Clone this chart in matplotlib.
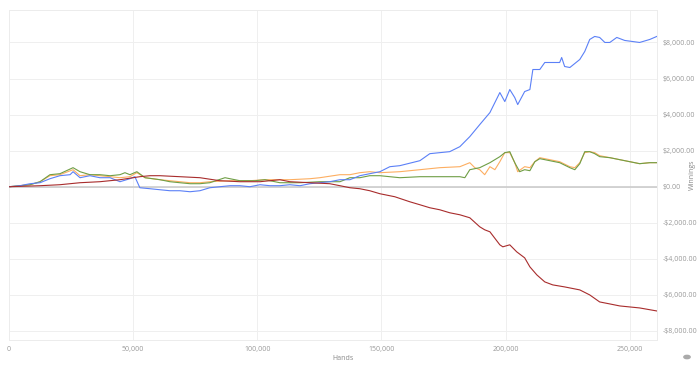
import matplotlib
matplotlib.use("Agg")
import matplotlib.pyplot as plt
from matplotlib.ticker import FuncFormatter
from matplotlib.patches import Circle

plt.rcParams['font.family'] = ['Open Sans', 'DejaVu Sans']

# hands (thousands) and winnings ($)
blue_hands = [0, 4.4, 8.5, 12.5, 16.5, 20.5, 24.6, 25.8, 28.6, 32.6, 36.6, 40.7, 44.7, 48.7, 50.7,
              52.7, 56.8, 60.8, 64.8, 68.8, 72.9, 76.9, 80.9, 84.9, 89.0, 93.0, 97.0, 101.1, 105.1,
              109.1, 113.1, 117.2, 121.2, 125.2, 129.2, 133.3, 137.3, 141.3, 145.3, 149.4, 153.4,
              157.4, 165.5, 169.5, 173.5, 177.5, 181.6, 185.6, 189.6, 193.7, 197.7, 199.7, 201.7,
              203.7, 204.9, 207.7, 209.8, 211.0, 213.8, 215.8, 217.8, 221.8, 222.6, 223.8, 225.9,
              229.9, 231.9, 233.9, 235.9, 237.9, 240.0, 242.0, 244.8, 248.0, 254.0, 258.1, 260.9]
blue_win = [0, 56, 167, 222, 444, 611, 667, 833, 500, 611, 500, 500, 278, 444, 556,
            -56, -111, -167, -222, -222, -278, -222, -56, 0, 56, 56, 0, 111, 56,
            56, 111, 56, 167, 222, 278, 389, 389, 611, 722, 833, 1111,
            1167, 1444, 1833, 1889, 1944, 2222, 2778, 3444, 4111, 5222, 4722, 5389,
            4945, 4556, 5278, 5389, 6500, 6500, 6889, 6889, 6889, 7167, 6667, 6611,
            7056, 7500, 8167, 8333, 8278, 8000, 8000, 8278, 8111, 8000, 8167, 8333]

orange_hands = [0, 4.4, 8.5, 12.5, 16.5, 20.5, 25.8, 28.6, 32.6, 36.6, 40.7, 44.7, 48.7, 51.5,
                54.8, 60.8, 64.8, 68.8, 72.9, 76.9, 80.9, 89.0, 97.0, 103.1, 113.1, 121.2, 125.2,
                133.3, 137.3, 141.3, 145.3, 149.4, 157.4, 165.5, 173.5, 181.6, 185.6, 187.6, 189.6,
                191.6, 193.7, 195.7, 197.7, 199.7, 201.7, 203.7, 204.9, 207.7, 209.8, 211.8, 213.8,
                217.8, 221.8, 225.9, 227.9, 229.9, 231.9, 233.9, 235.9, 237.9, 242.0, 246.0, 250.0,
                254.0, 258.1, 260.9]
orange_win = [0, 56, 111, 278, 611, 667, 944, 611, 667, 611, 556, 500, 556, 778,
              500, 389, 333, 278, 222, 222, 278, 333, 333, 389, 389, 444, 500,
              667, 667, 778, 833, 778, 833, 944, 1056, 1111, 1333, 1056, 944,
              667, 1111, 944, 1389, 1889, 1889, 1333, 833, 1111, 1056, 1389, 1611,
              1500, 1389, 1111, 1056, 1333, 1889, 1944, 1889, 1722, 1611, 1500, 1389,
              1278, 1333, 1333]

green_hands = [0, 4.4, 8.5, 12.5, 16.5, 20.5, 25.8, 28.6, 32.6, 36.6, 40.7, 44.7, 46.7, 48.7,
               51.5, 54.8, 60.8, 64.8, 68.8, 72.9, 76.9, 80.9, 87.0, 93.0, 99.0, 103.1, 109.1,
               117.2, 125.2, 133.3, 137.3, 141.3, 145.3, 149.4, 157.4, 165.5, 173.5, 181.6, 183.6,
               185.6, 189.6, 193.7, 197.7, 199.7, 201.7, 203.7, 205.7, 207.7, 209.8, 211.8, 213.8,
               217.8, 221.8, 225.9, 227.9, 229.9, 231.9, 233.9, 235.9, 237.9, 242.0, 246.0, 250.0,
               254.0, 258.1, 260.9]
green_win = [0, 56, 111, 278, 667, 722, 1056, 833, 667, 667, 611, 667, 778, 667,
             833, 500, 389, 278, 222, 167, 167, 222, 500, 333, 333, 389, 222,
             222, 278, 278, 500, 500, 611, 611, 500, 556, 556, 556, 500,
             944, 1056, 1333, 1667, 1889, 1944, 1333, 833, 944, 889, 1389, 1556,
             1444, 1333, 1056, 944, 1278, 1944, 1944, 1833, 1667, 1611, 1500, 1389,
             1278, 1333, 1333]

red_hands = [0, 12.5, 20.5, 28.6, 36.6, 44.7, 52.7, 56.8, 60.8, 68.8, 76.9, 84.9, 93.0, 101.1,
             109.1, 113.1, 121.2, 129.2, 133.3, 137.3, 141.3, 145.3, 149.4, 155.4, 161.4, 165.5,
             169.5, 173.5, 177.5, 181.6, 185.6, 189.6, 191.6, 193.7, 197.7, 198.9, 201.7, 204.5,
             207.7, 209.8, 212.6, 215.8, 219.0, 223.8, 229.9, 233.9, 237.9, 242.0, 246.0, 254.0,
             260.9]
red_win = [0, 56, 111, 222, 278, 389, 556, 611, 611, 556, 500, 333, 278, 278,
           389, 278, 222, 167, 56, -56, -111, -222, -389, -556, -833, -1000,
           -1167, -1278, -1444, -1556, -1722, -2222, -2389, -2500, -3222, -3333, -3222, -3611,
           -3944, -4444, -4889, -5278, -5444, -5556, -5722, -6000, -6389, -6500, -6611, -6722,
           -6889]

x_ticks = [0, 50000, 100000, 150000, 200000, 250000]
y_ticks = [-8000, -6000, -4000, -2000, 0, 2000, 4000, 6000, 8000]

fig = plt.figure(figsize=(7, 3.67), dpi=100)
ax = fig.add_axes([9/700, 27/367, 648/700, 330/367])

lw = 0.8
ax.plot([h * 1000 for h in blue_hands], blue_win, color='#5b80f7', lw=lw, zorder=5)
ax.plot([h * 1000 for h in orange_hands], orange_win, color='#fdae61', lw=lw, zorder=4)
ax.plot([h * 1000 for h in green_hands], green_win, color='#6f9e45', lw=lw, zorder=4)
ax.plot([h * 1000 for h in red_hands], red_win, color='#a82c2c', lw=lw, zorder=5)

ax.axhline(0, color='#cccccc', lw=1.2, zorder=2)

ax.set_xlim(0, 261000)
ax.set_ylim(-8500, 9800)
ax.set_xticks(x_ticks)
ax.set_yticks(y_ticks)
ax.xaxis.set_major_formatter(FuncFormatter(lambda v, p: f"{int(v):,}"))
ax.yaxis.set_major_formatter(FuncFormatter(
    lambda v, p: ("-$" if v < 0 else "$") + f"{abs(v):,.2f}"))
ax.yaxis.tick_right()
ax.grid(True, color='#efefef', lw=0.7)
ax.set_axisbelow(True)
for s in ax.spines.values():
    s.set_color('#ececec')
    s.set_linewidth(0.7)
ax.tick_params(length=0, labelsize=5, colors='#999999', pad=4)

# axis titles placed like the original
fig.text(343/700, 1 - 358/367, "Hands", fontsize=5, color='#888888',
         ha='center', va='center')
fig.text(692/700, 1 - 175/367, "Winnings", fontsize=5, color='#888888',
         ha='center', va='center', rotation=90)

fig.patches.append(Circle((687/700, 10/367), 0.0045, transform=fig.transFigure,
                          color='#aaaaaa'))

fig.savefig("out.png", dpi=100)
